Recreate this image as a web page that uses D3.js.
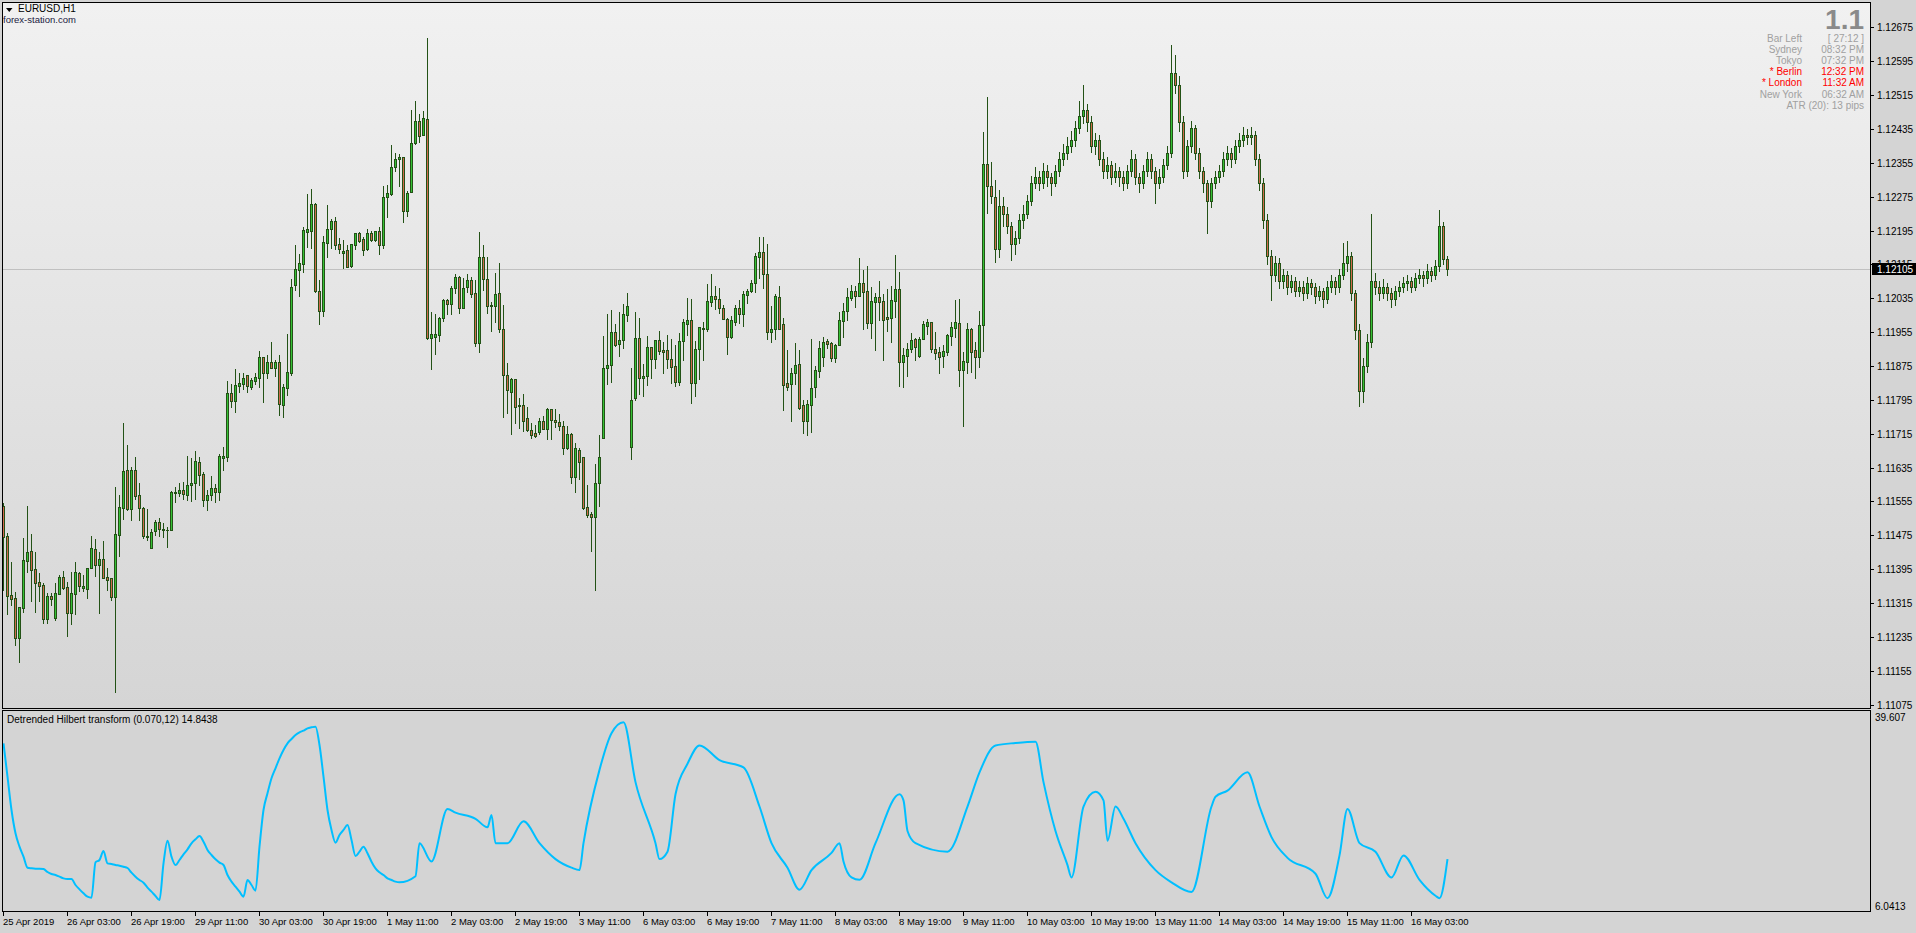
<!DOCTYPE html>
<html>
<head>
<meta charset="utf-8">
<script src="https://cdn.jsdelivr.net/npm/d3@7"></script>
<style>
  html, body { margin: 0; padding: 0; background: #d4d4d4; overflow: hidden; }
  svg { display: block; }
  text { font-family: "Liberation Sans", Arial, sans-serif; }
</style>
</head>
<body>
<svg id="chart" width="1916" height="933"></svg>
<script>
// EURUSD H1 candles (first bar 25 Apr 2019 11:00)
var opens = [
  1.11544,1.11474,1.11334,1.11327,1.11233,1.11303,1.11414,1.11438,1.11396,1.11365,
  1.11358,1.11278,1.11332,1.11280,1.11337,1.11377,1.11353,1.11292,1.11337,1.11386,
  1.11351,1.11348,1.11398,1.11443,1.11405,1.11419,1.11377,1.11374,1.11330,1.11476,
  1.11540,1.11630,1.11537,1.11630,1.11570,1.11540,1.11474,1.11445,1.11485,1.11507,
  1.11490,1.11488,1.11488,1.11577,1.11575,1.11582,1.11570,1.11594,1.11599,1.11648,
  1.11620,1.11559,1.11570,1.11587,1.11577,1.11658,1.11660,1.11811,1.11792,1.11828,
  1.11832,1.11854,1.11825,1.11839,1.11846,1.11896,1.11858,1.11884,1.11870,1.11884,
  1.11783,1.11823,1.11858,1.12067,1.12102,1.12116,1.12192,1.12194,1.12258,1.12052,
  1.12005,1.12166,1.12199,1.12218,1.12164,1.12142,1.12149,1.12112,1.12161,1.12190,
  1.12175,1.12152,1.12190,1.12173,1.12194,1.12161,1.12274,1.12281,1.12345,1.12364,
  1.12369,1.12241,1.12286,1.12402,1.12454,1.12421,1.12459,1.11941,1.11943,1.11948,
  1.11989,1.12031,1.12022,1.12060,1.12086,1.12012,1.12062,1.12079,1.12048,1.11930,
  1.12133,1.12081,1.12020,1.12017,1.12048,1.11963,1.11854,1.11814,1.11845,1.11783,
  1.11783,1.11752,1.11724,1.11717,1.11719,1.11745,1.11726,1.11774,1.11748,1.11743,
  1.11733,1.11681,1.11715,1.11613,1.11677,1.11660,1.11542,1.11525,1.11518,1.11599,
  1.11705,1.11870,1.11877,1.11955,1.11927,1.11937,1.11996,1.11684,1.11799,1.11941,
  1.11847,1.11851,1.11920,1.11892,1.11937,1.11913,1.11913,1.11892,1.11875,1.11837,
  1.11934,1.11974,1.11984,1.11835,1.11915,1.11965,1.11963,1.12027,1.12041,1.12034,
  1.12012,1.11986,1.11944,1.11979,1.12012,1.11998,1.12043,1.12052,1.12071,1.12133,
  1.12145,1.12093,1.11955,1.11963,1.12038,1.11975,1.11835,1.11833,1.11858,1.11880,
  1.11783,1.11745,1.11783,1.11825,1.11863,1.11896,1.11934,1.11930,1.11894,1.11925,
  1.11981,1.12005,1.12036,1.12052,1.12041,1.12071,1.12052,1.11977,1.12027,1.12038,
  1.12029,1.11991,1.11989,1.12029,1.12057,1.11885,1.11899,1.11915,1.11939,1.11899,
  1.11939,1.11970,1.11979,1.11915,1.11908,1.11899,1.11908,1.11946,1.11965,1.11977,
  1.11866,1.11885,1.11963,1.11913,1.11896,1.11972,1.12352,1.12300,1.12274,1.12152,
  1.12253,1.12235,1.12206,1.12163,1.12177,1.12220,1.12235,1.12264,1.12307,1.12321,
  1.12307,1.12336,1.12321,1.12307,1.12336,1.12365,1.12379,1.12394,1.12408,1.12437,
  1.12466,1.12480,1.12451,1.12394,1.12408,1.12365,1.12336,1.12350,1.12321,1.12336,
  1.12321,1.12307,1.12336,1.12365,1.12321,1.12307,1.12336,1.12365,1.12336,1.12307,
  1.12321,1.12350,1.12379,1.12567,1.12538,1.12451,1.12336,1.12394,1.12437,1.12379,
  1.12336,1.12307,1.12264,1.12307,1.12321,1.12336,1.12365,1.12379,1.12365,1.12394,
  1.12408,1.12422,1.12417,1.12422,1.12365,1.12307,1.12220,1.12134,1.12090,1.12119,
  1.12076,1.12090,1.12062,1.12076,1.12053,1.12062,1.12047,1.12070,1.12062,1.12041,
  1.12053,1.12033,1.12062,1.12076,1.12062,1.12090,1.12119,1.12134,1.12047,1.11960,
  1.11816,1.11874,1.11932,1.12076,1.12062,1.12047,1.12062,1.12047,1.12033,1.12053,
  1.12062,1.12070,1.12076,1.12062,1.12082,1.12090,1.12082,1.12099,1.12090,1.12111,
  1.12206,1.12128
];
var highs = [
  1.11552,1.11481,1.11412,1.11341,1.11306,1.11469,1.11544,1.11478,1.11436,1.11386,
  1.11363,1.11339,1.11339,1.11363,1.11381,1.11391,1.11365,1.11388,1.11412,1.11389,
  1.11381,1.11398,1.11474,1.11467,1.11436,1.11462,1.11398,1.11374,1.11589,1.11570,
  1.11740,1.11688,1.11637,1.11660,1.11599,1.11542,1.11537,1.11490,1.11510,1.11516,
  1.11504,1.11495,1.11580,1.11589,1.11599,1.11601,1.11662,1.11658,1.11674,1.11660,
  1.11625,1.11582,1.11615,1.11596,1.11667,1.11684,1.11840,1.11832,1.11867,1.11858,
  1.11858,1.11854,1.11846,1.11858,1.11910,1.11896,1.11901,1.11932,1.11889,1.11901,
  1.11832,1.11951,1.12081,1.12161,1.12140,1.12204,1.12281,1.12293,1.12260,1.12079,
  1.12182,1.12256,1.12223,1.12227,1.12178,1.12173,1.12161,1.12164,1.12190,1.12192,
  1.12180,1.12199,1.12194,1.12194,1.12204,1.12300,1.12303,1.12397,1.12378,1.12376,
  1.12369,1.12289,1.12480,1.12501,1.12471,1.12478,1.12650,1.12003,1.11998,1.11991,
  1.12034,1.12034,1.12065,1.12093,1.12088,1.12083,1.12093,1.12086,1.12079,1.12192,
  1.12161,1.12133,1.12027,1.12095,1.12119,1.12020,1.11882,1.11847,1.11845,1.11800,
  1.11809,1.11778,1.11741,1.11736,1.11752,1.11757,1.11776,1.11774,1.11774,1.11762,
  1.11745,1.11733,1.11717,1.11693,1.11681,1.11660,1.11594,1.11530,1.11643,1.11712,
  1.11946,1.11998,1.12007,1.11974,1.12003,1.12022,1.12048,1.11870,1.12003,1.11989,
  1.11880,1.11946,1.11920,1.11937,1.11958,1.11932,1.11949,1.11939,1.11925,1.11953,
  1.11986,1.12036,1.12034,1.11934,1.11967,1.11979,1.12069,1.12093,1.12065,1.12060,
  1.12020,1.11989,1.11993,1.12020,1.12031,1.12052,1.12057,1.12079,1.12142,1.12180,
  1.12180,1.12164,1.12017,1.12045,1.12065,1.11989,1.11913,1.11870,1.11930,1.11913,
  1.11795,1.11795,1.11939,1.11875,1.11934,1.11944,1.11939,1.11932,1.11927,1.12003,
  1.12024,1.12060,1.12067,1.12064,1.12130,1.12102,1.12112,1.12062,1.12048,1.12076,
  1.12045,1.12057,1.12064,1.12137,1.12097,1.11918,1.11930,1.11953,1.11941,1.11944,
  1.11981,1.11986,1.11979,1.11955,1.11920,1.11925,1.11951,1.11979,1.12031,1.12034,
  1.11908,1.11977,1.11965,1.11932,1.12005,1.12428,1.12511,1.12357,1.12315,1.12291,
  1.12275,1.12250,1.12215,1.12195,1.12235,1.12255,1.12280,1.12325,1.12345,1.12335,
  1.12355,1.12350,1.12330,1.12350,1.12380,1.12400,1.12415,1.12430,1.12455,1.12500,
  1.12538,1.12495,1.12465,1.12425,1.12420,1.12380,1.12370,1.12360,1.12355,1.12345,
  1.12335,1.12350,1.12385,1.12375,1.12330,1.12350,1.12380,1.12375,1.12345,1.12340,
  1.12365,1.12395,1.12633,1.12610,1.12560,1.12465,1.12410,1.12455,1.12445,1.12390,
  1.12345,1.12315,1.12320,1.12335,1.12350,1.12380,1.12395,1.12390,1.12410,1.12425,
  1.12440,1.12435,1.12440,1.12430,1.12375,1.12320,1.12235,1.12150,1.12135,1.12130,
  1.12105,1.12100,1.12090,1.12085,1.12075,1.12075,1.12085,1.12080,1.12070,1.12065,
  1.12060,1.12075,1.12090,1.12085,1.12105,1.12165,1.12170,1.12145,1.12055,1.11975,
  1.11895,1.11950,1.12235,1.12095,1.12075,1.12080,1.12070,1.12060,1.12065,1.12075,
  1.12085,1.12090,1.12085,1.12095,1.12105,1.12100,1.12115,1.12110,1.12125,1.12243,
  1.12215,1.12135
];
var lows = [
  1.11346,1.11289,1.11311,1.11216,1.11176,1.11294,1.11389,1.11320,1.11294,1.11320,
  1.11268,1.11268,1.11311,1.11275,1.11337,1.11348,1.11237,1.11266,1.11289,1.11344,
  1.11344,1.11327,1.11398,1.11379,1.11292,1.11374,1.11346,1.11322,1.11105,1.11426,
  1.11514,1.11535,1.11510,1.11561,1.11511,1.11469,1.11464,1.11445,1.11476,1.11474,
  1.11471,1.11448,1.11488,1.11554,1.11568,1.11561,1.11559,1.11556,1.11561,1.11594,
  1.11544,1.11535,1.11559,1.11554,1.11559,1.11630,1.11651,1.11778,1.11766,1.11813,
  1.11820,1.11813,1.11820,1.11832,1.11825,1.11790,1.11846,1.11870,1.11851,1.11759,
  1.11754,1.11806,1.11854,1.12055,1.12041,1.12097,1.12156,1.12154,1.12050,1.11975,
  1.11993,1.12133,1.12154,1.12152,1.12142,1.12107,1.12111,1.12109,1.12152,1.12168,
  1.12138,1.12149,1.12171,1.12171,1.12140,1.12154,1.12227,1.12279,1.12336,1.12300,
  1.12215,1.12230,1.12286,1.12400,1.12404,1.12421,1.11939,1.11868,1.11904,1.11934,
  1.11982,1.11998,1.11998,1.12048,1.12000,1.12012,1.12050,1.12038,1.11922,1.11908,
  1.12055,1.12000,1.11958,1.11979,1.11955,1.11755,1.11764,1.11715,1.11741,1.11729,
  1.11722,1.11722,1.11705,1.11707,1.11715,1.11726,1.11703,1.11703,1.11731,1.11724,
  1.11667,1.11679,1.11599,1.11577,1.11608,1.11537,1.11518,1.11438,1.11346,1.11544,
  1.11705,1.11832,1.11837,1.11922,1.11899,1.11918,1.11982,1.11655,1.11795,1.11809,
  1.11804,1.11830,1.11847,1.11870,1.11904,1.11859,1.11870,1.11835,1.11828,1.11830,
  1.11889,1.11948,1.11788,1.11804,1.11845,1.11889,1.11958,1.12017,1.12010,1.12000,
  1.11986,1.11904,1.11941,1.11972,1.11977,1.11970,1.12024,1.12050,1.12050,1.12083,
  1.12060,1.11939,1.11932,1.11939,1.11963,1.11771,1.11818,1.11745,1.11833,1.11774,
  1.11717,1.11712,1.11719,1.11802,1.11849,1.11875,1.11918,1.11887,1.11885,1.11925,
  1.11944,1.11984,1.12031,1.12015,1.12041,1.11963,1.11965,1.11941,1.11913,1.11984,
  1.11889,1.11958,1.11932,1.11991,1.11828,1.11826,1.11852,1.11908,1.11889,1.11896,
  1.11939,1.11951,1.11908,1.11892,1.11859,1.11873,1.11901,1.11925,1.11944,1.11828,
  1.11733,1.11859,1.11861,1.11847,1.11873,1.11911,1.12237,1.12260,1.12121,1.12133,
  1.12205,1.12190,1.12125,1.12140,1.12165,1.12200,1.12225,1.12255,1.12295,1.12290,
  1.12295,1.12300,1.12280,1.12300,1.12325,1.12350,1.12365,1.12380,1.12395,1.12425,
  1.12450,1.12430,1.12380,1.12375,1.12350,1.12320,1.12320,1.12305,1.12310,1.12300,
  1.12290,1.12295,1.12325,1.12305,1.12285,1.12295,1.12325,1.12320,1.12260,1.12295,
  1.12310,1.12340,1.12370,1.12520,1.12430,1.12320,1.12325,1.12380,1.12365,1.12320,
  1.12285,1.12190,1.12250,1.12295,1.12310,1.12325,1.12350,1.12345,1.12355,1.12380,
  1.12395,1.12400,1.12400,1.12350,1.12290,1.12200,1.12115,1.12030,1.12075,1.12060,
  1.12060,1.12045,1.12050,1.12040,1.12040,1.12030,1.12035,1.12045,1.12025,1.12030,
  1.12015,1.12025,1.12050,1.12045,1.12050,1.12080,1.12100,1.12030,1.11940,1.11781,
  1.11790,1.11860,1.11920,1.12045,1.12030,1.12035,1.12030,1.12015,1.12020,1.12040,
  1.12050,1.12055,1.12050,1.12055,1.12070,1.12065,1.12070,1.12075,1.12080,1.12100,
  1.12115,1.12090
];
var closes = [
  1.11471,1.11332,1.11325,1.11233,1.11306,1.11417,1.11436,1.11394,1.11363,1.11355,
  1.11278,1.11332,1.11325,1.11339,1.11377,1.11351,1.11292,1.11339,1.11389,1.11355,
  1.11355,1.11398,1.11445,1.11405,1.11419,1.11374,1.11370,1.11330,1.11478,1.11542,
  1.11627,1.11537,1.11630,1.11567,1.11540,1.11474,1.11471,1.11483,1.11507,1.11490,
  1.11488,1.11488,1.11577,1.11575,1.11582,1.11573,1.11594,1.11599,1.11651,1.11618,
  1.11559,1.11570,1.11587,1.11577,1.11662,1.11662,1.11811,1.11792,1.11830,1.11835,
  1.11846,1.11828,1.11842,1.11849,1.11896,1.11858,1.11884,1.11870,1.11884,1.11785,
  1.11825,1.11861,1.12062,1.12104,1.12119,1.12196,1.12199,1.12258,1.12052,1.12005,
  1.12168,1.12199,1.12218,1.12161,1.12152,1.12147,1.12109,1.12164,1.12190,1.12171,
  1.12149,1.12190,1.12173,1.12194,1.12161,1.12274,1.12284,1.12345,1.12364,1.12369,
  1.12241,1.12284,1.12402,1.12454,1.12418,1.12461,1.11941,1.11951,1.11951,1.11989,
  1.12031,1.12022,1.12060,1.12086,1.12012,1.12060,1.12079,1.12046,1.11930,1.12133,
  1.12081,1.12017,1.12017,1.12045,1.11963,1.11854,1.11818,1.11845,1.11778,1.11781,
  1.11745,1.11724,1.11712,1.11710,1.11745,1.11726,1.11774,1.11748,1.11743,1.11733,
  1.11681,1.11715,1.11613,1.11681,1.11648,1.11540,1.11523,1.11518,1.11599,1.11660,
  1.11870,1.11877,1.11955,1.11925,1.11937,1.11998,1.12017,1.11795,1.11941,1.11847,
  1.11851,1.11920,1.11892,1.11937,1.11911,1.11908,1.11892,1.11873,1.11837,1.11934,
  1.11979,1.11984,1.11835,1.11915,1.11967,1.11963,1.12029,1.12041,1.12034,1.12012,
  1.11986,1.11944,1.11984,1.12012,1.11998,1.12045,1.12052,1.12071,1.12135,1.12145,
  1.12093,1.11955,1.11963,1.12041,1.11963,1.11830,1.11826,1.11858,1.11877,1.11776,
  1.11745,1.11785,1.11823,1.11866,1.11918,1.11932,1.11927,1.11894,1.11925,1.11984,
  1.12005,1.12038,1.12052,1.12041,1.12071,1.12050,1.11977,1.12029,1.12038,1.12027,
  1.11984,1.11986,1.12031,1.12057,1.11885,1.11901,1.11915,1.11937,1.11920,1.11939,
  1.11974,1.11979,1.11915,1.11906,1.11896,1.11911,1.11948,1.11967,1.11979,1.11866,
  1.11887,1.11963,1.11908,1.11896,1.11972,1.12352,1.12300,1.12277,1.12152,1.12253,
  1.12235,1.12206,1.12163,1.12177,1.12220,1.12235,1.12264,1.12307,1.12321,1.12307,
  1.12336,1.12321,1.12307,1.12336,1.12365,1.12379,1.12394,1.12408,1.12437,1.12466,
  1.12480,1.12451,1.12394,1.12408,1.12365,1.12336,1.12350,1.12321,1.12336,1.12321,
  1.12307,1.12336,1.12365,1.12321,1.12307,1.12336,1.12365,1.12336,1.12307,1.12321,
  1.12350,1.12379,1.12567,1.12538,1.12451,1.12336,1.12394,1.12437,1.12379,1.12336,
  1.12307,1.12264,1.12307,1.12321,1.12336,1.12365,1.12379,1.12365,1.12394,1.12408,
  1.12422,1.12417,1.12422,1.12365,1.12307,1.12220,1.12134,1.12090,1.12119,1.12076,
  1.12090,1.12062,1.12076,1.12053,1.12062,1.12047,1.12070,1.12062,1.12041,1.12053,
  1.12033,1.12062,1.12076,1.12062,1.12090,1.12119,1.12134,1.12047,1.11960,1.11816,
  1.11874,1.11932,1.12076,1.12062,1.12047,1.12062,1.12047,1.12033,1.12053,1.12062,
  1.12070,1.12076,1.12062,1.12082,1.12090,1.12082,1.12099,1.12090,1.12111,1.12206,
  1.12128,1.12105
];

// Detrended Hilbert transform (0.070,12): bar index and value of each vertex
var dhtBars = [
  0,1,2,3,4,5,6,7,8,9,10,11,12,13,14,15,16,17,18,19,20,21,22,23,24,25,26,27,28,29,
  30,31,32,33,34,35,36,37,38,39,40,41,42,43,44,45,46,47,48,49,50,51,52,53,54,55,56,57,58,59,
  60,61,62,63,64,65,66,67,68,69,70,71,72,73,74,75,76,77,78,79,80,81,82,83,84,85,86,87,88,89,
  90,91,92,93,94,95,96,97,98,99,
  103,104,107,111,113,118,121,122,123,126,130,134,138,142,144,145,149,152,155,158,
  163,164,166,168,171,174,179,185,189,192,196,199,202,207,209,210,212,214,218,224,
  225,226,228,236,241,244,248,253,258,260,263,266,267,270,273,275,276,278,280,283,
  288,292,297,302,303,306,311,314,317,321,328,331,334,336,339,343,347,350,354,358,
  359,361
];
var dhtVals = [
  35.07,29.10,23.14,18.96,16.57,14.78,12.81,12.69,12.63,12.63,
  12.57,12.04,11.68,11.50,11.20,10.90,10.78,10.78,9.71,8.93,
  8.22,7.62,7.44,13.77,14.19,15.80,13.59,13.47,13.29,13.17,
  12.99,12.75,11.92,11.20,10.61,10.13,9.24,8.52,7.74,7.03,
  13.59,17.65,14.78,13.29,14.19,15.20,16.10,17.17,17.89,18.48,
  17.47,15.98,15.08,14.31,13.71,13.29,11.50,10.31,9.41,8.52,
  7.62,10.61,9.71,8.70,16.57,23.14,26.12,28.81,30.60,32.39,
  33.88,35.07,35.85,36.56,37.04,37.34,37.76,37.94,38.06,34.77,
  29.10,23.14,19.56,17.29,18.66,19.56,20.45,17.77,14.90,15.68,
  16.57,15.38,13.89,12.69,11.98,11.50,10.90,10.61,10.31,10.19,
  11.29,17.20,13.92,23.32,22.67,21.57,20.04,22.23,17.20,17.20,21.13,17.20,14.35,12.82,12.38,17.20,30.32,36.88,38.85,28.13,
  17.20,14.35,15.67,25.95,31.41,34.70,32.07,30.76,23.76,17.20,12.82,8.88,12.38,15.45,17.20,13.92,11.07,10.63,17.20,25.95,
  24.86,19.38,17.20,15.67,23.76,29.88,34.70,35.13,35.35,28.13,19.38,13.26,11.07,23.76,26.39,24.86,17.63,23.76,21.57,17.20,
  12.38,10.19,8.45,23.76,25.51,26.60,29.88,23.76,18.29,14.57,11.73,7.35,15.01,23.32,17.20,15.67,11.07,15.01,10.63,7.79,
  7.35,14.35
];

var priceTicks = [1.12675,1.12595,1.12515,1.12435,1.12355,1.12275,1.12195,1.12115,
  1.12035,1.11955,1.11875,1.11795,1.11715,1.11635,1.11555,1.11475,1.11395,1.11315,
  1.11235,1.11155,1.11075];
var lastPrice = 1.12105;

var timeLabels = ["25 Apr 2019","26 Apr 03:00","26 Apr 19:00","29 Apr 11:00","30 Apr 03:00",
  "30 Apr 19:00","1 May 11:00","2 May 03:00","2 May 19:00","3 May 11:00","6 May 03:00",
  "6 May 19:00","7 May 11:00","8 May 03:00","8 May 19:00","9 May 11:00","10 May 03:00",
  "10 May 19:00","13 May 11:00","14 May 03:00","14 May 19:00","15 May 11:00","16 May 03:00"];
var timeLabelBars = [0,16,32,48,64,80,96,112,128,144,160,176,192,208,224,240,256,272,288,304,320,336,352];

var dhtMax = 39.607, dhtMin = 6.0413;
var dhtTitle = "Detrended Hilbert transform (0.070,12) 14.8438";

var infoLeft  = ["Bar Left","Sydney","Tokyo","* Berlin","* London","New York"];
var infoRight = ["[ 27:12 ]","08:32 PM","07:32 PM","12:32 PM","11:32 AM","06:32 AM"];
var infoHot   = [false,false,false,true,true,false];
var atrText = "ATR (20): 13 pips";

(function () {
  "use strict";

  var W = 1916, H = 933;
  var paneL = 2, paneR = 1870, mainT = 2, mainB = 708, indT = 710, indB = 911;
  var EDGE = "#235216", BULL = "#35c135", BEAR = "#cf6a4c";

  var svg = d3.select("#chart");
  var defs = svg.append("defs");
  var grad = defs.append("linearGradient").attr("id", "mainBg")
    .attr("x1", 0).attr("y1", 0).attr("x2", 0).attr("y2", 1);
  grad.append("stop").attr("offset", 0).attr("stop-color", "#f1f1f1");
  grad.append("stop").attr("offset", 1).attr("stop-color", "#d5d5d5");

  svg.append("rect").attr("width", W).attr("height", H).attr("fill", "#d4d4d4");

  // ── Panes ───────────────────────────────────────────────────────────────
  var back = svg.append("g").attr("shape-rendering", "crispEdges");
  back.append("rect").attr("x", paneL).attr("y", mainT)
    .attr("width", paneR - paneL).attr("height", mainB - mainT).attr("fill", "url(#mainBg)");
  back.append("rect").attr("x", paneL).attr("y", indT)
    .attr("width", paneR - paneL).attr("height", indB - indT).attr("fill", "#d4d4d4");

  // ── Scales ──────────────────────────────────────────────────────────────
  var x = d3.scaleLinear().domain([0, 361]).range([3, 3 + 4 * 361]);
  var y = d3.scaleLinear().domain([1.11075, 1.12435]).range([704.6, 129]);
  var yI = d3.scaleLinear().domain([dhtMin, dhtMax]).range([905.5, 718]);

  // ── Current price line ──────────────────────────────────────────────────
  var yLast = Math.round(y(lastPrice));
  back.append("rect").attr("x", paneL + 1).attr("y", yLast)
    .attr("width", paneR - paneL - 1).attr("height", 1).attr("fill", "#c0c0c0");

  // ── Candles ─────────────────────────────────────────────────────────────
  var bars = d3.range(closes.length).map(function (i) {
    return { i: i, o: opens[i], h: highs[i], l: lows[i], c: closes[i] };
  });
  var gC = svg.append("g").attr("shape-rendering", "crispEdges");
  var cand = gC.selectAll("g.bar").data(bars).enter().append("g").attr("class", "bar");

  function px(d) { return Math.round(x(d.i)); }
  function yTop(d) { return Math.round(y(Math.max(d.o, d.c))); }
  function yBot(d) { return Math.round(y(Math.min(d.o, d.c))); }
  function yHi(d) { return Math.round(y(Math.max(d.h, d.o, d.c))); }
  function yLo(d) { return Math.round(y(Math.min(d.l, d.o, d.c))); }

  cand.append("rect")
    .attr("x", px).attr("y", yHi).attr("width", 1)
    .attr("height", function (d) { return yLo(d) - yHi(d) + 1; })
    .attr("fill", EDGE);
  cand.append("rect")
    .attr("x", function (d) { return px(d) - 1; }).attr("y", yTop).attr("width", 3)
    .attr("height", function (d) { return yBot(d) - yTop(d) + 1; })
    .attr("fill", EDGE);
  cand.filter(function (d) { return yBot(d) - yTop(d) >= 2; }).append("rect")
    .attr("x", px)
    .attr("y", function (d) { return yTop(d) + 1; })
    .attr("width", 1)
    .attr("height", function (d) { return yBot(d) - yTop(d) - 1; })
    .attr("fill", function (d) { return d.c >= d.o ? BULL : BEAR; });

  // ── Indicator line ──────────────────────────────────────────────────────
  var pts = dhtBars.map(function (b, k) { return [b, dhtVals[k]]; });
  var line = d3.line()
    .curve(d3.curveMonotoneX)
    .x(function (d) { return x(d[0]) + 0.5; })
    .y(function (d) { return yI(d[1]); });
  svg.append("path").datum(pts)
    .attr("fill", "none").attr("stroke", "#00bfff").attr("stroke-width", 2)
    .attr("stroke-linejoin", "round")
    .attr("d", line);

  // ── Frames ──────────────────────────────────────────────────────────────
  var gF = svg.append("g").attr("shape-rendering", "crispEdges");
  function hLine(x0, x1, yy) {
    gF.append("rect").attr("x", x0).attr("y", yy).attr("width", x1 - x0 + 1).attr("height", 1).attr("fill", "#000");
  }
  function vLine(xx, y0, y1) {
    gF.append("rect").attr("x", xx).attr("y", y0).attr("width", 1).attr("height", y1 - y0 + 1).attr("fill", "#000");
  }
  hLine(paneL, paneR, mainT); hLine(paneL, paneR, mainB);
  vLine(paneL, mainT, mainB); vLine(paneR, mainT, mainB);
  hLine(paneL, paneR, indT); hLine(paneL, paneR, indB);
  vLine(paneL, indT, indB); vLine(paneR, indT, indB);

  // ── Price axis ──────────────────────────────────────────────────────────
  var gY = svg.append("g");
  defs.append("clipPath").attr("id", "tagClip").append("rect")
    .attr("x", paneR).attr("y", 0).attr("width", 60).attr("height", yLast - 6);
  priceTicks.forEach(function (p) {
    var yy = Math.round(y(p));
    gY.append("rect").attr("x", paneR + 1).attr("y", yy).attr("width", 3).attr("height", 1)
      .attr("fill", "#000").attr("shape-rendering", "crispEdges");
    var t = gY.append("text").attr("x", paneR + 7).attr("y", yy + 3.5)
      .attr("font-size", "10px").attr("fill", "#000").text(d3.format(".5f")(p));
    // the label hidden behind the current price tag only peeks out above it
    if (Math.abs(yy - yLast) < 10) t.attr("clip-path", "url(#tagClip)");
  });
  gY.append("rect").attr("x", paneR + 2).attr("y", yLast - 6).attr("width", 44).attr("height", 12)
    .attr("fill", "#000").attr("shape-rendering", "crispEdges");
  gY.append("text").attr("x", paneR + 7).attr("y", yLast + 4)
    .attr("font-size", "10px").attr("fill", "#fff").text(d3.format(".5f")(lastPrice));

  gY.append("text").attr("x", paneR + 5).attr("y", 721)
    .attr("font-size", "10px").attr("fill", "#000").text(String(dhtMax));
  gY.append("text").attr("x", paneR + 5).attr("y", Math.round(yI(dhtMin)) + 3.5)
    .attr("font-size", "10px").attr("fill", "#000").text(String(dhtMin));

  // ── Time axis ───────────────────────────────────────────────────────────
  var gX = svg.append("g");
  timeLabelBars.forEach(function (b, k) {
    var xx = Math.round(x(b));
    gX.append("rect").attr("x", xx).attr("y", indB + 1).attr("width", 1).attr("height", 4)
      .attr("fill", "#000").attr("shape-rendering", "crispEdges");
    gX.append("text").attr("x", xx).attr("y", 925)
      .attr("font-size", "9.5px").attr("fill", "#000").text(timeLabels[k]);
  });

  // ── Texts in panes ──────────────────────────────────────────────────────
  svg.append("path").attr("d", "M6,8 L12.5,8 L9.25,12 Z").attr("fill", "#000");
  svg.append("text").attr("x", 18).attr("y", 12).attr("font-size", "10px").attr("fill", "#000").text("EURUSD,H1");
  svg.append("text").attr("x", 3).attr("y", 22.8).attr("font-size", "9.5px").attr("fill", "#1a1a40").text("forex-station.com");

  svg.append("text").attr("x", 7).attr("y", 723).attr("font-size", "10px").attr("fill", "#000").text(dhtTitle);

  svg.append("text").attr("x", 1864).attr("y", 28.5).attr("text-anchor", "end")
    .attr("font-size", "28px").attr("font-weight", "bold").attr("fill", "#8a8a8a").text("1.1");

  var gInfo = svg.append("g").attr("font-size", "10px");
  infoLeft.forEach(function (t, k) {
    var yy = 42 + 11.1 * k;
    var col = infoHot[k] ? "#ff0000" : "#a0a0a0";
    gInfo.append("text").attr("x", 1802).attr("y", yy).attr("text-anchor", "end").attr("fill", col).text(t);
    gInfo.append("text").attr("x", 1864).attr("y", yy).attr("text-anchor", "end").attr("fill", col).text(infoRight[k]);
  });
  gInfo.append("text").attr("x", 1864).attr("y", 42 + 11.1 * 6).attr("text-anchor", "end")
    .attr("fill", "#a0a0a0").text(atrText);
})();
</script>
</body>
</html>
